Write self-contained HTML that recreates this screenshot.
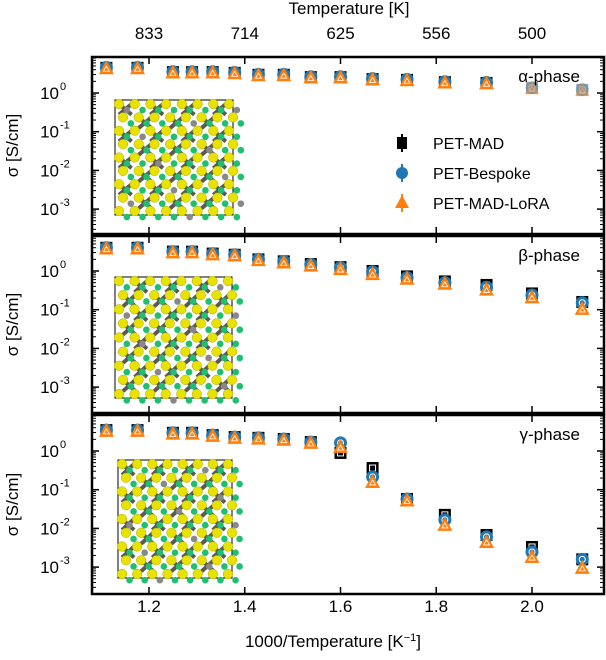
<!DOCTYPE html>
<html><head><meta charset="utf-8">
<style>
html,body{margin:0;padding:0;background:#fff;}
svg{display:block;font-family:"Liberation Sans",sans-serif;}
</style></head>
<body>
<svg id="chart" width="606" height="660" viewBox="0 0 606 660"></svg>
<script>
const invT = [1.111,1.176,1.25,1.29,1.333,1.379,1.4286,1.4815,1.538,1.6,1.667,1.739,1.818,1.905,2.0,2.105];
const topTickTemps = [833,714,625,556,500];
const xTicks = [1.2,1.4,1.6,1.8,2.0];
const alphaMAD     = [0.65,0.65,0.54,0.54,0.54,0.52,0.47,0.47,0.41,0.41,0.36,0.34,0.28,0.26,0.13,0.08];
const alphaBespoke = [0.66,0.66,0.55,0.55,0.55,0.53,0.48,0.48,0.42,0.42,0.37,0.35,0.29,0.27,0.14,0.09];
const alphaLoRA    = [0.64,0.64,0.53,0.53,0.53,0.51,0.46,0.46,0.40,0.40,0.35,0.33,0.27,0.25,0.12,0.07];
const betaMAD      = [0.60,0.60,0.50,0.50,0.45,0.42,0.30,0.25,0.18,0.10,0.00,-0.14,-0.27,-0.36,-0.58,-0.80];
const betaBespoke  = [0.60,0.60,0.50,0.50,0.45,0.42,0.30,0.25,0.17,0.09,-0.02,-0.17,-0.30,-0.42,-0.62,-0.82];
const betaLoRA     = [0.58,0.58,0.48,0.48,0.43,0.40,0.28,0.22,0.14,0.05,-0.08,-0.20,-0.33,-0.48,-0.68,-0.98];
const gammaMAD     = [0.54,0.54,0.47,0.47,0.41,0.36,0.34,0.31,0.23,-0.05,-0.44,-1.24,-1.65,-2.17,-2.48,-2.80];
const gammaBespoke = [0.54,0.54,0.47,0.47,0.41,0.36,0.34,0.31,0.23,0.21,-0.67,-1.24,-1.78,-2.22,-2.61,-2.80];
const gammaLoRA    = [0.52,0.52,0.45,0.45,0.39,0.34,0.32,0.29,0.21,0.10,-0.80,-1.28,-1.91,-2.35,-2.74,-3.02];
const panels = [
 {name:'alpha',label:'α-phase',top:57,bottom:234,zero:93,series:[alphaMAD,alphaBespoke,alphaLoRA],inset:[115,100,233,215]},
 {name:'beta',label:'β-phase',top:236,bottom:413,zero:271,series:[betaMAD,betaBespoke,betaLoRA],inset:[115,277,232,398]},
 {name:'gamma',label:'γ-phase',top:415,bottom:594,zero:451,series:[gammaMAD,gammaBespoke,gammaLoRA],inset:[118,460,232,578]}
];
const L=92,R=604,DEC=38.7;
const xs=v=>149+(v-1.2)*478.75;
const svg=document.getElementById('chart');
const NS='http://www.w3.org/2000/svg';
function mk(tag,attrs,parent){const e=document.createElementNS(NS,tag);for(const k in attrs)e.setAttribute(k,attrs[k]);(parent||svg).appendChild(e);return e;}
function txt(s,attrs,parent){const e=mk('text',attrs,parent);e.textContent=s;return e;}
const colors=['#000','#1f77b4','#ff7f0e'];

panels.forEach((p,pi)=>{
 const g=mk('g',{});
 
 
 const ys=v=>p.zero-v*DEC;
 const ig=mk('g',{},g);
 
 
 const [x0,y0,x1,y1]=p.inset;
 mk('rect',{x:x0,y:y0,width:x1-x0,height:y1-y0,fill:'none',stroke:'#000','stroke-width':1},ig);
 const cw=(x1-x0-8)/7, ch=(y1-y0-8)/8;
 for(let r=0;r<9;r++)for(let c=0;c<8;c++){
   const cx=x0+4+c*cw+((r%2)?4:0), cy=y0+4+r*ch;
   if(r<8&&c<7&&(r+c+pi)%2==0){
     mk('line',{x1:cx,y1:cy,x2:cx+cw*0.8,y2:cy+ch*0.8,stroke:'#5a5a50','stroke-width':4},ig);
     mk('line',{x1:cx+cw*0.8,y1:cy,x2:cx,y2:cy+ch*0.8,stroke:'#5a5a50','stroke-width':4},ig);
   }
 }
 for(let r=0;r<9;r++)for(let c=0;c<8;c++){
   const cx=x0+4+c*cw+((r%2)?4:0), cy=y0+4+r*ch;
   mk('circle',{cx:cx,cy:cy,r:4.8,fill:'#e8e200',stroke:'#b0a800','stroke-width':0.5},ig);
   mk('circle',{cx:cx+cw*0.5,cy:cy+ch*0.45,r:3.3,fill:((r*3+c+pi)%7==0)?'#888':'#1fbf70'},ig);
 }
 const names=['pet-mad','pet-bespoke','pet-mad-lora'];
 p.series.forEach((arr,si)=>{
   arr.forEach((v,i)=>{
     const x=xs(invT[i]),y=ys(v);
     const op=(pi==0&&i>=14)?0.35:1;
     let m;
     if(si==0){m=mk('rect',{x:x-6,y:y-6,width:12,height:12,fill:'#000',opacity:op},g);mk('rect',{x:x-3,y:y-3,width:6,height:6,fill:'none',stroke:'#fff','stroke-width':1,opacity:op},g);}
     else if(si==1){m=mk('circle',{cx:x,cy:y,r:6.5,fill:'#1f77b4',opacity:op},g);mk('circle',{cx:x,cy:y,r:3,fill:'none',stroke:'#fff','stroke-width':1,opacity:op},g);}
     else{m=mk('polygon',{points:`${x},${y-8} ${x-7.5},${y+6} ${x+7.5},${y+6}`,fill:'#ff7f0e',opacity:op},g);mk('polygon',{points:`${x},${y-2} ${x-3},${y+3} ${x+3},${y+3}`,fill:'none',stroke:'#fff','stroke-width':0.8,opacity:op},g);}
     
     
   });
 });
 const f=mk('rect',{x:L,y:p.top,width:R-L,height:p.bottom-p.top,fill:'none',stroke:'#000','stroke-width':2.5},g);
 
 
 xTicks.forEach(t=>{const x=xs(t);mk('line',{x1:x,y1:p.top,x2:x,y2:p.top+7,stroke:'#000','stroke-width':1.5},g);mk('line',{x1:x,y1:p.bottom,x2:x,y2:p.bottom-7,stroke:'#000','stroke-width':1.5},g);});
 for(let d=-4;d<=1;d++){
   const y=ys(d);
   if(y>=p.top-1&&y<=p.bottom+1){
     mk('line',{x1:L,y1:y,x2:L+7,y2:y,stroke:'#000','stroke-width':1.5},g);
     mk('line',{x1:R,y1:y,x2:R-7,y2:y,stroke:'#000','stroke-width':1.5},g);
     if(d>=-3&&d<=0){
       const t=txt('10',{x:59,y:y+6,'font-size':17,'text-anchor':'end'},g);
       
       
       txt(String(d),{x:60,y:y-3,'font-size':11},g);
     }
   }
   for(let k=2;k<10;k++){const yy=ys(d+Math.log10(k));if(yy>p.top+1&&yy<p.bottom-1){mk('line',{x1:L,y1:yy,x2:L+4,y2:yy,stroke:'#000','stroke-width':1},g);mk('line',{x1:R,y1:yy,x2:R-4,y2:yy,stroke:'#000','stroke-width':1},g);}}
 }
 const pl=txt(p.label,{x:580,y:p.top+25,'font-size':17,'text-anchor':'end'},g);
 
 
 const yl=txt('σ [S/cm]',{x:0,y:0,'font-size':17,'text-anchor':'middle',transform:`translate(18,${(p.top+p.bottom)/2}) rotate(-90)`},g);
 
 
});
xTicks.forEach(t=>{const e=txt(t.toFixed(1),{x:xs(t),y:612,'font-size':17,'text-anchor':'middle'});
 
 });
topTickTemps.forEach((T,i)=>{const e=txt(String(T),{x:xs(xTicks[i]),y:39,'font-size':17,'text-anchor':'middle'});
 
 });
const xt=txt('1000/Temperature [K',{x:333,y:647,'font-size':17,'text-anchor':'middle'});


const sup=mk('tspan',{dy:-6,'font-size':11},xt);sup.textContent='−1';
const sup2=mk('tspan',{dy:6},xt);sup2.textContent=']';
const tt=txt('Temperature [K]',{x:349,y:14,'font-size':17,'text-anchor':'middle'});


const lg=mk('g',{});


const labs=['PET-MAD','PET-Bespoke','PET-MAD-LoRA'];
labs.forEach((s,i)=>{
 const y=143+i*30,x=402;
 mk('line',{x1:x,y1:y-9,x2:x,y2:y+9,stroke:colors[i],'stroke-width':2},lg);
 if(i==0)mk('rect',{x:x-5,y:y-6,width:10,height:12,fill:'#000'},lg);
 else if(i==1)mk('circle',{cx:x,cy:y,r:6,fill:'#1f77b4'},lg);
 else mk('polygon',{points:`${x},${y-8} ${x-7},${y+5} ${x+7},${y+5}`,fill:'#ff7f0e'},lg);
 const e=txt(s,{x:433,y:y+6,'font-size':16},lg);
 
 
});
</script>
</body></html>
